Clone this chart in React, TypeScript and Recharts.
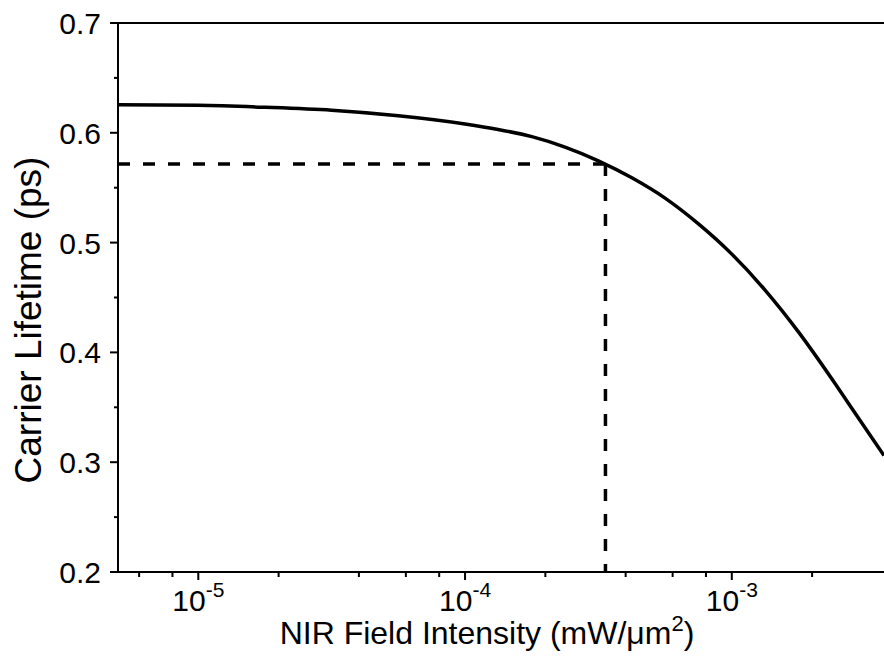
import { LineChart, Line, XAxis, YAxis, ReferenceLine, Label } from 'recharts';

// NIR field intensity (mW/um^2) and carrier lifetime (ps)
const intensity = [
  5e-6, 1e-5, 1.78e-5, 3.16e-5, 5.62e-5, 1e-4, 1.33e-4, 1.78e-4, 2.37e-4, 3.16e-4,
  4.22e-4, 5.62e-4, 7.5e-4, 1e-3, 1.33e-3, 1.78e-3, 2.37e-3, 2.8e-3, 3.72e-3,
];
const lifetime = [
  0.6255, 0.625, 0.6232, 0.6205, 0.6155, 0.608, 0.603, 0.5965, 0.587, 0.5745,
  0.559, 0.5405, 0.517, 0.4895, 0.457, 0.4185, 0.376, 0.35, 0.306,
];

// marked operating point (dashed guide)
const markX = 3.36e-4;
const markY = 0.5716;

const xMajor = [1e-5, 1e-4, 1e-3];
const xMajorExp = ['-5', '-4', '-3'];
const xMinor = [6e-6, 8e-6, 2e-5, 4e-5, 6e-5, 8e-5, 2e-4, 4e-4, 6e-4, 8e-4, 2e-3];
const yMajor = [0.2, 0.3, 0.4, 0.5, 0.6, 0.7];
const yMinor = [0.25, 0.35, 0.45, 0.55, 0.65];

const data = intensity.map((v, i) => ({ x: v, y: lifetime[i] }));

const FONT = '"Liberation Sans", Arial, sans-serif';

const XTick = (props: any) => {
  const { x, y, payload } = props;
  const idx = xMajor.findIndex((m) => Math.abs(m - payload.value) / m < 1e-6);
  const major = idx >= 0;
  return (
    <g>
      <line x1={x} y1={y} x2={x} y2={y + (major ? 8 : 5)} stroke="#000" strokeWidth={2} />
      {major && (
        <text x={x} y={y + 39} textAnchor="middle" fontSize={30} fontFamily={FONT} fill="#000">
          10
          <tspan dy={-14} fontSize={21}>
            {xMajorExp[idx]}
          </tspan>
        </text>
      )}
    </g>
  );
};

const YTick = (props: any) => {
  const { x, y, payload } = props;
  const major = yMajor.some((m) => Math.abs(m - payload.value) < 1e-6);
  return (
    <g>
      <line x1={x} y1={y} x2={x - (major ? 8 : 4)} y2={y} stroke="#000" strokeWidth={2} />
      {major && (
        <text x={x - 17} y={y + 11} textAnchor="end" fontSize={30} fontFamily={FONT} fill="#000">
          {payload.value.toFixed(1)}
        </text>
      )}
    </g>
  );
};

export default function App() {
  return (
    <div style={{ position: 'absolute', left: 0, top: 0, background: '#fff' }}>
      <LineChart width={884} height={672} data={data} margin={{ top: 23, right: 0, bottom: 0, left: 0 }}>
        <XAxis
          dataKey="x"
          type="number"
          scale="log"
          domain={[5e-6, 3.72e-3]}
          allowDataOverflow
          ticks={[...xMinor, ...xMajor].sort((a, b) => a - b)}
          interval={0}
          tick={<XTick />}
          tickLine={false}
          tickSize={0}
          tickMargin={0}
          height={100}
          axisLine={{ stroke: '#000', strokeWidth: 2 }}
        >
          <Label
            content={() => (
              <text x={487} y={644} textAnchor="middle" fontSize={32} fontFamily={FONT} fill="#000">
                NIR Field Intensity (mW/μm
                <tspan dy={-13} fontSize={22}>2</tspan>
                <tspan dy={13}>)</tspan>
              </text>
            )}
          />
        </XAxis>
        <YAxis
          type="number"
          domain={[0.2, 0.7]}
          allowDataOverflow
          ticks={[...yMajor, ...yMinor].sort((a, b) => a - b)}
          interval={0}
          tick={<YTick />}
          tickLine={false}
          tickSize={0}
          tickMargin={0}
          width={118}
          axisLine={{ stroke: '#000', strokeWidth: 2 }}
        >
          <Label
            content={() => (
              <text
                x={28}
                y={320}
                transform="rotate(-90 28 320)"
                textAnchor="middle"
                dominantBaseline="central"
                fontSize={37}
                fontFamily={FONT}
                fill="#000"
              >
                Carrier Lifetime (ps)
              </text>
            )}
          />
        </YAxis>
        <ReferenceLine y={0.7} stroke="#000" strokeWidth={2} />
        <ReferenceLine
          segment={[
            { x: 5e-6, y: markY },
            { x: markX, y: markY },
          ]}
          stroke="#000"
          strokeWidth={3.5}
          strokeDasharray="12 13"
        />
        <ReferenceLine
          segment={[
            { x: markX, y: markY },
            { x: markX, y: 0.2 },
          ]}
          stroke="#000"
          strokeWidth={3.5}
          strokeDasharray="12 13"
        />
        <Line
          dataKey="y"
          type="monotone"
          stroke="#000"
          strokeWidth={3.5}
          dot={false}
          isAnimationActive={false}
        />
      </LineChart>
    </div>
  );
}
